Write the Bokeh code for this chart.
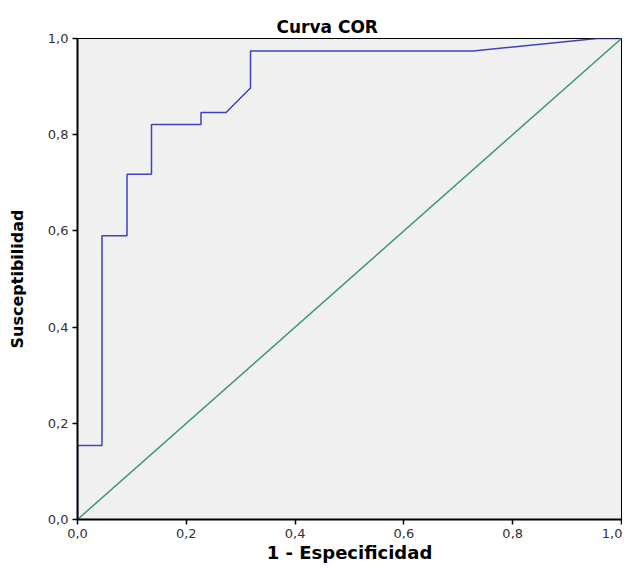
from bokeh.plotting import figure
from bokeh.models import FixedTicker, Range1d
from bokeh.embed import file_html
from bokeh.resources import INLINE

# ROC curve points (1 - specificity, sensitivity)
fpr = [0.0, 0.0, 0.045, 0.045, 0.091, 0.091, 0.136, 0.136, 0.227, 0.227, 0.273, 0.318, 0.318, 0.727, 0.955, 1.0]
tpr = [0.0, 0.154, 0.154, 0.590, 0.590, 0.718, 0.718, 0.821, 0.821, 0.846, 0.846, 0.897, 0.974, 0.974, 1.0, 1.0]
ref_x = [0.0, 1.0]
ref_y = [0.0, 1.0]
ticks = [0.0, 0.2, 0.4, 0.6, 0.8, 1.0]
tick_labels = {0.0: "0,0", 0.2: "0,2", 0.4: "0,4", 0.6: "0,6", 0.8: "0,8", 1.0: "1,0"}

FONT = "DejaVu Sans"

p = figure(width=622, height=565, output_backend="svg", toolbar_location=None,
           x_range=Range1d(0, 1), y_range=Range1d(0, 1),
           min_border_left=77, min_border_right=1, min_border_top=38, min_border_bottom=45,
           title="Curva COR")
p.background_fill_color = "#f0f0f0"
p.border_fill_color = "white"
p.outline_line_color = "black"
p.outline_line_width = 1
p.xgrid.visible = False
p.ygrid.visible = False

p.title.text_font = FONT
p.title.text_font_size = "17px"
p.title.text_font_style = "bold"
p.title.text_color = "black"
p.title.align = "left"
p.title.offset = 199
p.title.standoff = 3

for ax in (p.xaxis[0], p.yaxis[0]):
    ax.ticker = FixedTicker(ticks=ticks)
    ax.major_label_overrides = tick_labels
    ax.minor_tick_line_color = None
    ax.major_tick_out = 5
    ax.major_tick_in = 0
    ax.major_tick_line_width = 1.5
    ax.axis_line_width = 2
    ax.axis_line_color = "black"
    ax.major_label_text_font = FONT
    ax.major_label_text_font_size = "13px"
    ax.major_label_text_color = "#333333"
    ax.major_label_standoff = 4
    ax.axis_label_text_font = FONT
    ax.axis_label_text_font_style = "bold"
    ax.axis_label_text_color = "black"

p.xaxis.axis_label = "1 - Especificidad"
p.yaxis.axis_label = "Susceptibilidad"
p.xaxis.axis_label_text_font_size = "18px"
p.yaxis.axis_label_text_font_size = "16px"
p.xaxis.axis_label_standoff = 1
p.yaxis.axis_label_standoff = 18

p.line(ref_x, ref_y, line_color="#3c9a6c", line_width=1.5)
p.line(fpr, tpr, line_color="#4040c0", line_width=1.5)

open("out.html", "w").write(file_html(p, INLINE))
